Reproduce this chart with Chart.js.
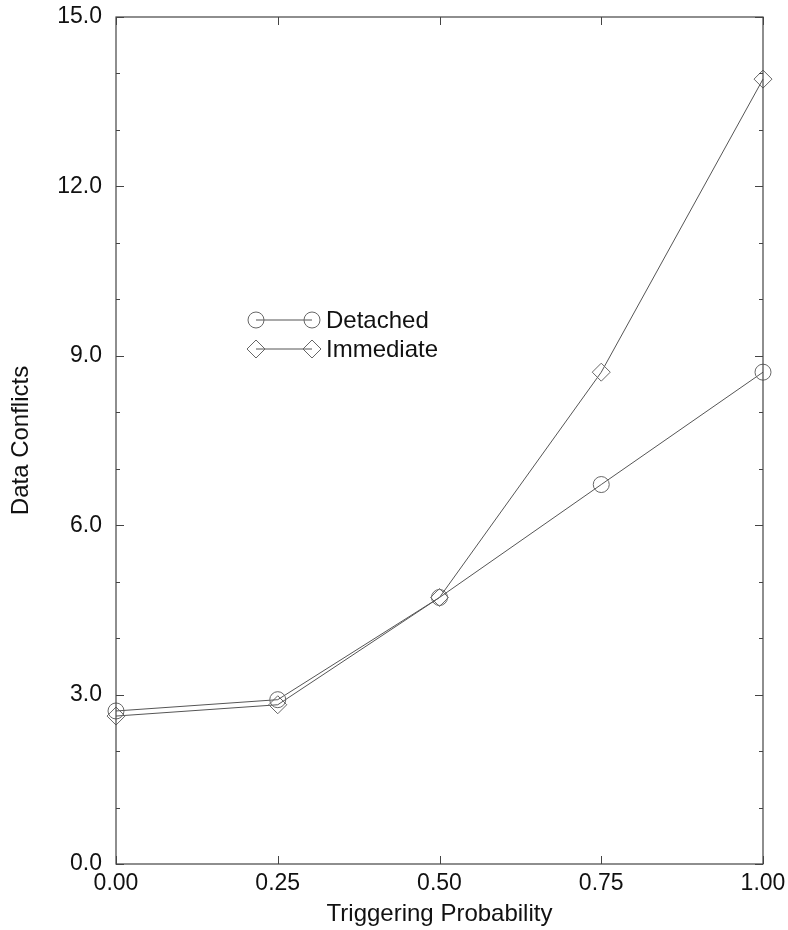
<!DOCTYPE html>
<html>
<head>
<meta charset="utf-8">
<script src="https://cdn.jsdelivr.net/npm/chart.js@4/dist/chart.umd.min.js"></script>
<style>
  html, body { margin: 0; padding: 0; background: #fff; }
  #wrap { width: 788px; height: 930px; }
</style>
</head>
<body>
<div id="wrap"><canvas id="c" width="788" height="930"></canvas></div>
<script>
// Triggering probability vs. data conflicts
const probabilities = [0.00, 0.25, 0.50, 0.75, 1.00];
const detached  = [2.71, 2.91, 4.72, 6.72, 8.71];
const immediate = [2.62, 2.82, 4.72, 8.71, 13.90];
const seriesNames = ['Detached', 'Immediate'];
const xTickValues = [0.00, 0.25, 0.50, 0.75, 1.00];
const yTickValues = [0.0, 3.0, 6.0, 9.0, 12.0, 15.0];

const FONT = 'Liberation Sans, Arial, Helvetica, sans-serif';
const MARK = '#666';

// frame with inward tick marks on all four sides, plus an in-plot legend
const framePlugin = {
  id: 'frame',
  afterDraw(chart, args, opts) {
    const { ctx, chartArea: a, scales: { x, y } } = chart;
    ctx.save();
    ctx.strokeStyle = '#444';
    ctx.lineWidth = 1.2;
    ctx.strokeRect(a.left, a.top, a.right - a.left, a.bottom - a.top);
    ctx.lineWidth = 1;
    // y ticks: every 1.0, longer at labelled values
    for (let v = y.min; v <= y.max + 1e-9; v += 1) {
      const py = Math.round(y.getPixelForValue(v)) + 0.5;
      const len = (Math.abs(v % 3) < 1e-9) ? 8 : 4;
      ctx.beginPath();
      ctx.moveTo(a.left, py); ctx.lineTo(a.left + len, py);
      ctx.moveTo(a.right, py); ctx.lineTo(a.right - len, py);
      ctx.stroke();
    }
    // x ticks at labelled values
    xTickValues.forEach(v => {
      const px = Math.round(x.getPixelForValue(v)) + 0.5;
      ctx.beginPath();
      ctx.moveTo(px, a.bottom); ctx.lineTo(px, a.bottom - 8);
      ctx.moveTo(px, a.top); ctx.lineTo(px, a.top + 8);
      ctx.stroke();
    });
    // legend
    const lg = opts.legend;
    chart.data.datasets.forEach((ds, i) => {
      const ly = lg.y + i * lg.rowGap;
      ctx.strokeStyle = ds.borderColor;
      ctx.lineWidth = 1;
      ctx.beginPath();
      ctx.moveTo(lg.x, ly); ctx.lineTo(lg.x + lg.lineLen, ly);
      ctx.stroke();
      ctx.strokeStyle = ds.pointBorderColor;
      ctx.fillStyle = 'rgba(0,0,0,0)';
      [lg.x, lg.x + lg.lineLen].forEach(px => {
        Chart.helpers.drawPoint(ctx, {
          pointStyle: ds.pointStyle, radius: ds.pointRadius, rotation: 0, borderWidth: 1
        }, px, ly);
      });
      ctx.fillStyle = '#111';
      ctx.font = '24px ' + FONT;
      ctx.textBaseline = 'middle';
      ctx.textAlign = 'left';
      ctx.fillText(ds.label, lg.x + lg.lineLen + 14, ly + 1);
    });
    ctx.restore();
  }
};

new Chart(document.getElementById('c'), {
  type: 'line',
  data: {
    datasets: [
      {
        label: seriesNames[0],
        data: probabilities.map((p, i) => ({ x: p, y: detached[i] })),
        borderColor: '#555', borderWidth: 1,
        pointStyle: 'circle', pointRadius: 8,
        pointBorderColor: MARK, pointBorderWidth: 1,
        pointBackgroundColor: 'rgba(0,0,0,0)',
        tension: 0
      },
      {
        label: seriesNames[1],
        data: probabilities.map((p, i) => ({ x: p, y: immediate[i] })),
        borderColor: '#555', borderWidth: 1,
        pointStyle: 'rectRot', pointRadius: 9,
        pointBorderColor: MARK, pointBorderWidth: 1,
        pointBackgroundColor: 'rgba(0,0,0,0)',
        tension: 0
      }
    ]
  },
  options: {
    responsive: false,
    animation: false,
    clip: false,
    layout: { padding: { top: 17, right: 25, left: 0, bottom: 0 } },
    plugins: {
      legend: { display: false },
      tooltip: { enabled: false },
      frame: { legend: { x: 256, y: 320, rowGap: 29, lineLen: 56 } }
    },
    scales: {
      x: {
        type: 'linear', min: 0, max: 1,
        afterBuildTicks: s => { s.ticks = xTickValues.map(v => ({ value: v })); },
        afterFit: s => { s.height = 66; s.paddingLeft = 0; s.paddingRight = 0; },
        grid: { display: false, drawTicks: false },
        border: { display: false },
        ticks: {
          padding: 6, color: '#111', maxRotation: 0, autoSkip: false,
          font: { family: FONT, size: 23 },
          callback: v => Number(v).toFixed(2)
        },
        title: {
          display: true, text: 'Triggering Probability', color: '#111',
          font: { family: FONT, size: 24 }, padding: { top: 0, bottom: 1 }
        }
      },
      y: {
        type: 'linear', min: 0, max: 15,
        afterBuildTicks: s => { s.ticks = yTickValues.map(v => ({ value: v })); },
        afterFit: s => { s.width = 116; s.paddingTop = 0; s.paddingBottom = 0; },
        grid: { display: false, drawTicks: false },
        border: { display: false },
        ticks: {
          padding: 14, color: '#111', autoSkip: false,
          font: { family: FONT, size: 23 },
          callback: v => Number(v).toFixed(1)
        },
        title: {
          display: true, text: 'Data Conflicts', color: '#111',
          font: { family: FONT, size: 24 }, padding: { top: 7, bottom: 0 }
        }
      }
    }
  },
  plugins: [framePlugin]
});
</script>
</body>
</html>
